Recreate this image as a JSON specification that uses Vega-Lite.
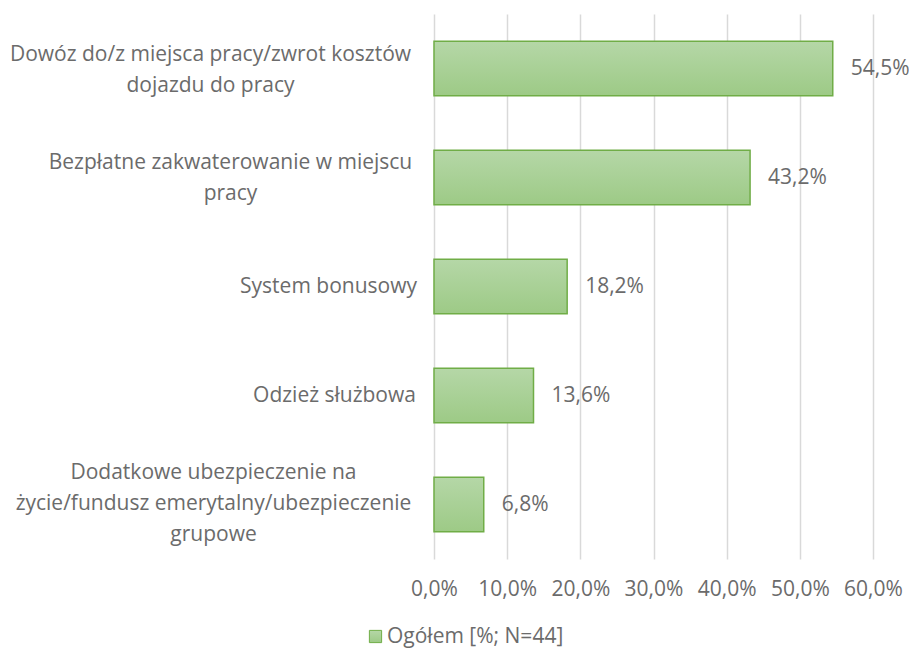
{
  "$schema": "https://vega.github.io/schema/vega-lite/v6.json",
  "width": 439,
  "height": 545,
  "autosize": {"type": "none"},
  "padding": {"left": 434, "top": 14, "right": 36, "bottom": 94},
  "background": "white",
  "config": {
    "locale": {"number": {"decimal": ",", "thousands": " ", "grouping": [3], "currency": ["", " zł"]}},
    "font": "Open Sans",
    "view": {"stroke": null},
    "legend": {"symbolFillColor": "#aed39b"}
  },
  "data": {
    "values": [
      {"kategoria": "Dowóz do/z miejsca pracy/zwrot kosztów|dojazdu do pracy", "wartosc": 0.545, "seria": "Ogółem [%; N=44]"},
      {"kategoria": "Bezpłatne zakwaterowanie w miejscu|pracy", "wartosc": 0.432, "seria": "Ogółem [%; N=44]"},
      {"kategoria": "System bonusowy", "wartosc": 0.182, "seria": "Ogółem [%; N=44]"},
      {"kategoria": "Odzież służbowa", "wartosc": 0.136, "seria": "Ogółem [%; N=44]"},
      {"kategoria": "Dodatkowe ubezpieczenie na|życie/fundusz emerytalny/ubezpieczenie|grupowe", "wartosc": 0.068, "seria": "Ogółem [%; N=44]"}
    ]
  },
  "encoding": {
    "y": {
      "field": "kategoria",
      "type": "nominal",
      "sort": null,
      "scale": {"paddingInner": 0.5, "paddingOuter": 0.25},
      "axis": {
        "title": null,
        "ticks": false,
        "domain": false,
        "labelExpr": "split(datum.value, '|')",
        "labelFontSize": 21,
        "labelColor": "#6b6b6b",
        "labelAlign": "center",
        "labelPadding": {
          "condition": [
            {"test": "indexof(datum.value, 'Dowóz') === 0", "value": 224},
            {"test": "indexof(datum.value, 'Bezpłatne') === 0", "value": 204},
            {"test": "indexof(datum.value, 'System') === 0", "value": 106},
            {"test": "indexof(datum.value, 'Odzież') === 0", "value": 100}
          ],
          "value": 221
        },
        "labelOffset": {
          "condition": [
            {"test": "indexof(datum.value, 'Dowóz') === 0", "value": -14},
            {"test": "indexof(datum.value, 'Bezpłatne') === 0", "value": -15},
            {"test": "indexof(datum.value, 'Dodatkowe') === 0", "value": -32}
          ],
          "value": 0
        },
        "labelLimit": 500,
        "labelLineHeight": 31
      }
    },
    "x": {
      "field": "wartosc",
      "type": "quantitative",
      "scale": {"domain": [0, 0.6]},
      "axis": {
        "title": null,
        "format": ".1%",
        "values": [0, 0.1, 0.2, 0.3, 0.4, 0.5, 0.6],
        "labelOverlap": false,
        "labelFlush": false,
        "ticks": false,
        "domain": false,
        "gridColor": "#d9d9d9",
        "gridWidth": 1.5,
        "labelFontSize": 21,
        "labelColor": "#6b6b6b",
        "labelPadding": 19
      }
    }
  },
  "layer": [
    {
      "mark": {
        "type": "bar",
        "strokeWidth": 1.5,
        "fill": {
          "gradient": "linear", "x1": 0, "y1": 0, "x2": 0, "y2": 1,
          "stops": [{"offset": 0, "color": "#b5d7a7"}, {"offset": 1, "color": "#9dca86"}]
        }
      },
      "encoding": {
        "stroke": {
          "field": "seria",
          "type": "nominal",
          "scale": {"range": ["#70ad47"]},
          "legend": {
            "title": null,
            "orient": "none",
            "legendX": -69,
            "legendY": 612,
            "symbolType": "square",
            "symbolSize": 150,
            "symbolStrokeWidth": 1,
            "labelFontSize": 21,
            "labelColor": "#6b6b6b",
            "labelOffset": 1,
            "labelLimit": 400
          }
        }
      }
    },
    {
      "mark": {"type": "text", "align": "left", "dx": 18, "fontSize": 21, "color": "#6b6b6b"},
      "encoding": {
        "text": {"field": "wartosc", "type": "quantitative", "format": ".1%"}
      }
    }
  ]
}
